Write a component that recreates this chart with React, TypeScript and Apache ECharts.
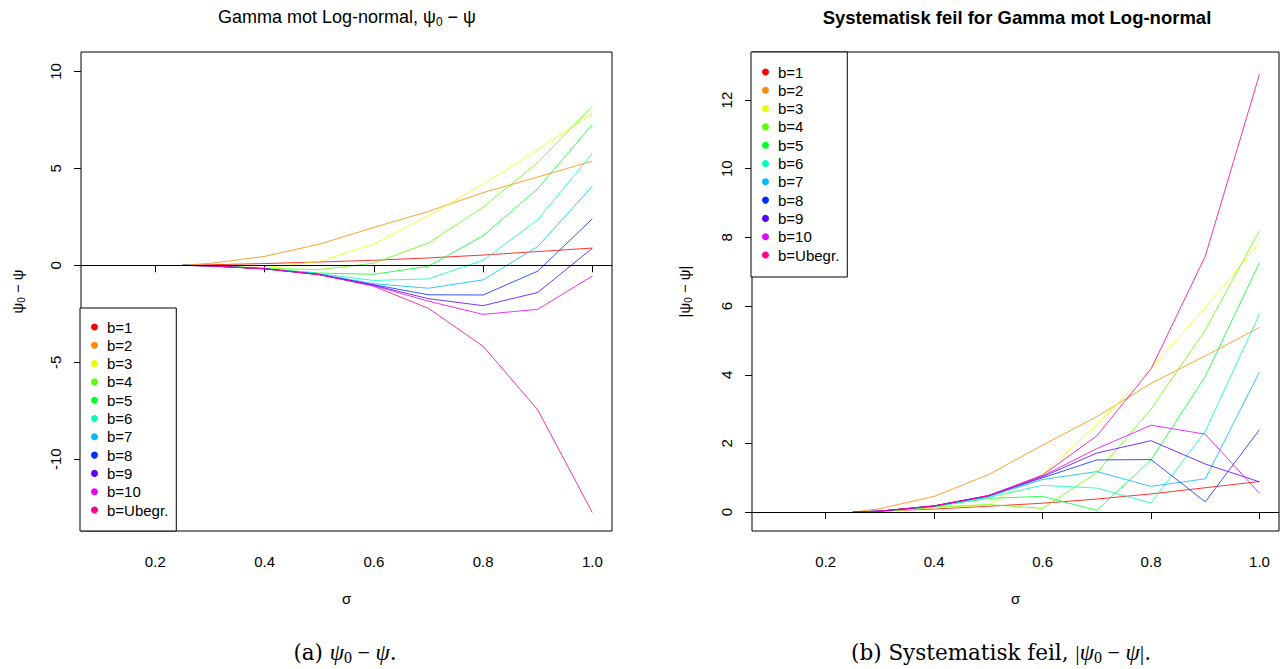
import React, { useEffect, useRef } from "react";
import * as echarts from "echarts";

const sigma = [0.25, 0.3, 0.4, 0.5, 0.6, 0.7, 0.8, 0.9, 1.0];
const seriesNames = ["b=1", "b=2", "b=3", "b=4", "b=5", "b=6", "b=7", "b=8", "b=9", "b=10", "b=Ubegr."];
const seriesColors = ["#FF0000", "#FF8B00", "#E8FF00", "#5DFF00", "#00FF2E", "#00FFB9", "#00B9FF", "#002EFF", "#5D00FF", "#E800FF", "#FF008B"];

// psi0 - psi for each truncation level b
const b1 = [0, 0.03, 0.09, 0.17, 0.26, 0.38, 0.53, 0.71, 0.89];
const b2 = [0, 0.1, 0.46, 1.09, 1.95, 2.78, 3.75, 4.55, 5.38];
const b3 = [0, -0.02, -0.12, 0.2, 1.1, 2.55, 4.18, 5.95, 7.85];
const b4 = [0, -0.02, -0.15, -0.22, 0.11, 1.15, 3.0, 5.3, 8.2];
const b5 = [0, -0.02, -0.16, -0.4, -0.46, -0.05, 1.52, 3.95, 7.27];
const b6 = [0, -0.03, -0.17, -0.43, -0.78, -0.7, 0.26, 2.35, 5.77];
const b7 = [0, -0.03, -0.17, -0.45, -0.95, -1.18, -0.75, 0.97, 4.08];
const b8 = [0, -0.03, -0.18, -0.47, -1.0, -1.52, -1.53, -0.3, 2.4];
const b9 = [0, -0.03, -0.18, -0.48, -1.03, -1.72, -2.08, -1.4, 0.88];
const b10 = [0, -0.03, -0.18, -0.48, -1.05, -1.85, -2.53, -2.27, -0.55];
const bUbegr = [0, -0.03, -0.18, -0.48, -1.08, -2.22, -4.17, -7.45, -12.75];
const allValues = [b1, b2, b3, b4, b5, b6, b7, b8, b9, b10, bUbegr];

const xTicks = [0.2, 0.4, 0.6, 0.8, 1.0];
const yTicksLeft = [-10, -5, 0, 5, 10];
const yTicksRight = [0, 2, 4, 6, 8, 10, 12];

const SANS = "Liberation Sans, Arial, sans-serif";
const SERIF = "DejaVu Serif, Liberation Serif, serif";
const MATH = "Liberation Serif, DejaVu Serif, serif";

export default function App() {
  const ref = useRef<HTMLDivElement>(null);

  useEffect(() => {
    if (!ref.current) return;
    const chart = echarts.init(ref.current, undefined, { renderer: "svg" });

    const xAxisBase = (gridIndex: number) => ({
      type: "value",
      gridIndex,
      min: 0.064,
      max: 1.036,
      splitLine: { show: false },
      axisLine: { show: false },
      axisTick: { show: true, length: 7, lineStyle: { color: "#000", width: 1 }, customValues: xTicks },
      axisLabel: {
        customValues: xTicks,
        formatter: (v: number) => v.toFixed(1),
        color: "#000",
        fontFamily: SANS,
        fontSize: 15,
        margin: 23,
      },
    });

    const yAxisBase = (gridIndex: number, min: number, max: number, ticks: number[]) => ({
      type: "value",
      gridIndex,
      min,
      max,
      splitLine: { show: false },
      axisLine: { show: false },
      axisTick: { show: true, length: 7, lineStyle: { color: "#000", width: 1 }, customValues: ticks },
      axisLabel: {
        customValues: ticks,
        formatter: (v: number) => String(v),
        rotate: 90,
        color: "#000",
        fontFamily: SANS,
        fontSize: 15,
        margin: 18,
      },
    });

    const zeroLine = {
      silent: true,
      symbol: "none",
      label: { show: false },
      lineStyle: { color: "#000", width: 1, type: "solid" },
      data: [{ yAxis: 0 }],
    };

    const series: any[] = [];
    allValues.forEach((vals, i) => {
      series.push({
        type: "line",
        name: seriesNames[i],
        xAxisIndex: 0,
        yAxisIndex: 0,
        data: sigma.map((s, j) => [s, vals[j]]),
        symbol: "none",
        lineStyle: { color: seriesColors[i], width: 1, opacity: 0.8 },
        itemStyle: { color: seriesColors[i] },
        markLine: i === 0 ? zeroLine : undefined,
        z: 2,
      });
    });
    allValues.forEach((vals, i) => {
      series.push({
        type: "line",
        name: seriesNames[i],
        xAxisIndex: 1,
        yAxisIndex: 1,
        data: sigma.map((s, j) => [s, Math.abs(vals[j])]),
        symbol: "none",
        lineStyle: { color: seriesColors[i], width: 1, opacity: 0.8 },
        itemStyle: { color: seriesColors[i] },
        markLine: i === 0 ? zeroLine : undefined,
        z: 2,
      });
    });

    const legendBase = {
      orient: "vertical",
      icon: "circle",
      itemWidth: 7,
      itemHeight: 7,
      itemGap: 0.3,
      selectedMode: false,
      backgroundColor: "#fff",
      borderColor: "#000",
      borderWidth: 1,
      borderRadius: 0,
      data: seriesNames.map((n, i) => ({ name: n, itemStyle: { color: seriesColors[i] } })),
      textStyle: { color: "#000", fontFamily: SANS, fontSize: 15, lineHeight: 18, padding: [0, 0, 0, 4] },
      z: 10,
    };

    const richSans = (size: number) => ({
      m: { fontSize: size, fontFamily: SANS, color: "#000", lineHeight: size + 4 },
      s: { fontSize: Math.round(size * 0.68), fontFamily: SANS, color: "#000", verticalAlign: "bottom", lineHeight: Math.round(size * 0.68) + 1 },
    });

    const richCaption = {
      m: { fontSize: 21.5, fontFamily: SERIF, color: "#000", lineHeight: 26 },
      p: { fontSize: 23, fontFamily: MATH, fontStyle: "italic", color: "#000", lineHeight: 26 },
      o: { fontSize: 22, fontFamily: MATH, color: "#000", lineHeight: 26 },
      s: { fontSize: 16, fontFamily: MATH, color: "#000", verticalAlign: "bottom", lineHeight: 17 },
    };

    const option: any = {
      animation: false,
      backgroundColor: "#fff",
      grid: [
        { left: 81, top: 52, width: 531, height: 479, show: true, borderColor: "#000", borderWidth: 1, backgroundColor: "transparent", outerBoundsMode: "none" },
        { left: 752, top: 52, width: 527, height: 479, show: true, borderColor: "#000", borderWidth: 1, backgroundColor: "transparent", outerBoundsMode: "none" },
      ],
      xAxis: [xAxisBase(0), xAxisBase(1)],
      yAxis: [yAxisBase(0, -13.7, 11.0, yTicksLeft), yAxisBase(1, -0.55, 13.4, yTicksRight)],
      legend: [
        { ...legendBase, left: 80, top: 308, padding: [10, 8, 12, 11] },
        { ...legendBase, left: 751, top: 52, padding: [11, 8, 13, 11] },
      ],
      series,
      graphic: [
        {
          type: "text",
          x: 347,
          y: 17,
          style: {
            text: "{m|Gamma mot Log-normal, ψ}{s|0}{m| − ψ}",
            rich: richSans(18),
            align: "center",
            verticalAlign: "middle",
          },
        },
        {
          type: "text",
          x: 1017,
          y: 17,
          style: {
            text: "Systematisk feil for Gamma mot Log-normal",
            font: "bold 18.5px Liberation Sans, Arial, sans-serif",
            fill: "#000",
            align: "center",
            verticalAlign: "middle",
          },
        },
        {
          type: "text",
          x: 346.5,
          y: 598,
          style: { text: "σ", font: "15px Liberation Sans, Arial, sans-serif", fill: "#000", align: "center", verticalAlign: "middle" },
        },
        {
          type: "text",
          x: 1015.5,
          y: 598,
          style: { text: "σ", font: "15px Liberation Sans, Arial, sans-serif", fill: "#000", align: "center", verticalAlign: "middle" },
        },
        {
          type: "text",
          x: 17,
          y: 291.5,
          rotation: Math.PI / 2,
          style: {
            text: "{m|ψ}{s|0}{m| − ψ}",
            rich: richSans(15),
            align: "center",
            verticalAlign: "middle",
          },
        },
        {
          type: "text",
          x: 684,
          y: 291.5,
          rotation: Math.PI / 2,
          style: {
            text: "{m||ψ}{s|0}{m| − ψ|}",
            rich: richSans(15),
            align: "center",
            verticalAlign: "middle",
          },
        },
        {
          type: "text",
          x: 345,
          y: 652,
          style: {
            text: "{m|(a) }{p|ψ}{s|0}{o| − }{p|ψ}{m|.}",
            rich: richCaption,
            align: "center",
            verticalAlign: "middle",
          },
        },
        {
          type: "text",
          x: 1001,
          y: 652,
          style: {
            text: "{m|(b) Systematisk feil, }{o||}{p|ψ}{s|0}{o| − }{p|ψ}{o||}{m|.}",
            rich: richCaption,
            align: "center",
            verticalAlign: "middle",
          },
        },
      ],
    };

    chart.setOption(option);
    return () => chart.dispose();
  }, []);

  return (
    <div
      ref={ref}
      style={{ position: "absolute", left: 0, top: 0, width: 1284, height: 669, background: "#fff" }}
    />
  );
}
